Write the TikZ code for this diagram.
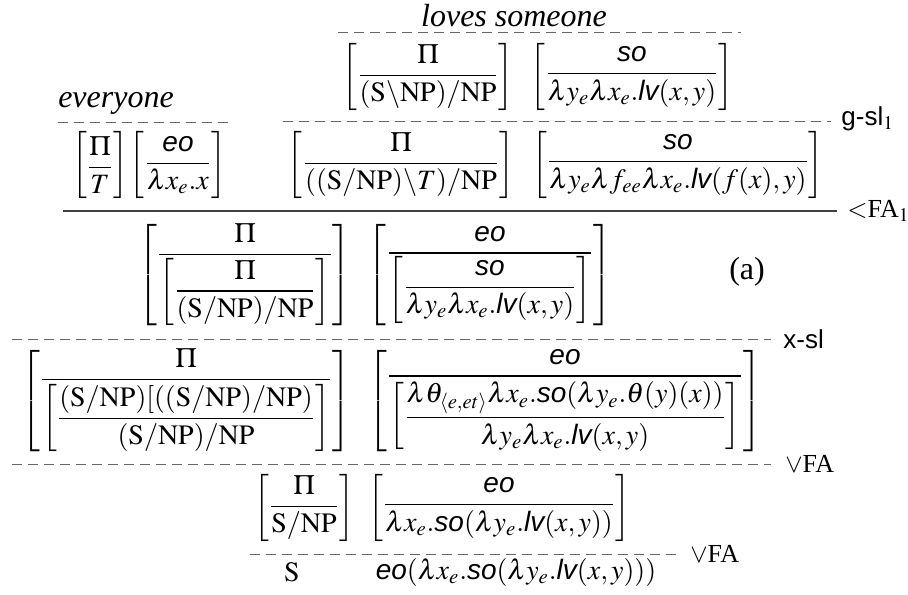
\documentclass[tikz,border=0pt]{standalone}
\usepackage{amsmath}
\usepackage{mathptmx}
\usepackage{fontspec}
\setmainfont{Liberation Serif}
\setsansfont{Liberation Sans}
\usepackage{tikz}
\usetikzlibrary{positioning}
\newcommand{\sm}[1]{\textsf{\itshape #1}}
\newcommand{\cat}[1]{\mathrm{#1}}
\newcommand{\brk}[2]{\left[\vcenter{\kern1pt\hbox{$\displaystyle\frac{#1}{#2}$}\kern1pt}\right]}

\begin{document}
\begin{tikzpicture}[%
      x=0.5pt, y=-0.5pt,
      expr/.style={inner sep=0pt, font=\fontsize{14}{16}\selectfont},
      word/.style={inner sep=0pt, font=\fontsize{16}{18}\selectfont\itshape},
      rulelab/.style={inner sep=0pt, anchor=west, font=\fontsize{13}{15}\selectfont},
      dline/.style={dash pattern=on 5pt off 3pt, line width=0.5pt, black!60},
      sline/.style={line width=0.6pt, black!75}
    ]
      \useasboundingbox (0,0) rectangle (908,594);

      % Lexical entries
      \node[word] (loves) at (514,16) {loves someone};
      \node[expr] (lscat) at (428,77) {$\brk{\Pi}{(\cat{S}\backslash\cat{NP})/\cat{NP}}$};
      \node[expr] (lssem) at (632,77) {$\brk{\sm{so}}{\lambda y_e\lambda x_e.\sm{lv}(x,y)}$};
      \node[word] (every) at (116,103) {everyone};

      \coordinate (d1l) at (338,32);  \coordinate (d1r) at (741,32);
      \coordinate (d2l) at (58,122);  \coordinate (d2r) at (230,122);
      \coordinate (d3l) at (283,121); \coordinate (d3r) at (831,121);
      \draw[dline] (d1l) -- (d1r);
      \draw[dline] (d2l) -- (d2r);
      \draw[dline] (d3l) -- (d3r);
      \node[rulelab, right=5pt of d3r, yshift=1pt] (gsl) {\textsf{g-sl}$_1$};

      % After g-sl
      \node[expr] (evcat) at (100,165) {$\brk{\Pi}{T}$};
      \node[expr] (evsem) at (178,165) {$\brk{\sm{eo}}{\lambda x_e.x}$};
      \node[expr] (gcat) at (401,165) {$\brk{\Pi}{((\cat{S}/\cat{NP})\backslash T)/\cat{NP}}$};
      \node[expr] (gsem) at (678,165) {$\brk{\sm{so}}{\lambda y_e\lambda f_{ee}\lambda x_e.\sm{lv}(f(x),y)}$};

      \coordinate (s1l) at (63,211); \coordinate (s1r) at (837,211);
      \draw[sline] (s1l) -- (s1r);
      \node[rulelab, right=5pt of s1r] (fa1) {$<$FA$_1$};

      % After FA
      \node[expr] (facat) at (245,275) {$\brk{\Pi}{\brk{\Pi}{(\cat{S}/\cat{NP})/\cat{NP}}}$};
      \node[expr] (fasem) at (490,275) {$\brk{\sm{eo}}{\brk{\sm{so}}{\lambda y_e\lambda x_e.\sm{lv}(x,y)}}$};
      \node[expr, font=\fontsize{16}{18}\selectfont] (tag) at (747,272) {(a)};

      \coordinate (d4l) at (12,339); \coordinate (d4r) at (771,339);
      \draw[dline] (d4l) -- (d4r);
      \node[rulelab, right=6pt of d4r] (xsl) {\textsf{x-sl}};

      % After x-sl
      \node[expr] (xscat) at (186,401) {$\brk{\Pi}{\brk{(\cat{S}/\cat{NP})[((\cat{S}/\cat{NP})/\cat{NP})}{(\cat{S}/\cat{NP})/\cat{NP}}}$};
      \node[expr] (xssem) at (565,401) {$\brk{\sm{eo}}{\brk{\lambda\theta_{\langle e,et\rangle}\lambda x_e.\sm{so}(\lambda y_e.\theta(y)(x))}{\lambda y_e\lambda x_e.\sm{lv}(x,y)}}$};

      \coordinate (d5l) at (12,464); \coordinate (d5r) at (771,464);
      \draw[dline] (d5l) -- (d5r);
      \node[rulelab, right=7pt of d5r] (vfa1) {$\vee$FA};

      % After first FA
      \node[expr] (vcat) at (304,508) {$\brk{\Pi}{\cat{S}/\cat{NP}}$};
      \node[expr] (vsem) at (499,508) {$\brk{\sm{eo}}{\lambda x_e.\sm{so}(\lambda y_e.\sm{lv}(x,y))}$};

      \coordinate (d6l) at (250,554); \coordinate (d6r) at (676,554);
      \draw[dline] (d6l) -- (d6r);
      \node[rulelab, right=7pt of d6r] (vfa2) {$\vee$FA};

      % Result
      \node[expr] (scat) at (292,572) {$\cat{S}$};
      \node[expr] (ssem) at (516,572) {$\sm{eo}(\lambda x_e.\sm{so}(\lambda y_e.\sm{lv}(x,y)))$};
    \end{tikzpicture}
\end{document}
